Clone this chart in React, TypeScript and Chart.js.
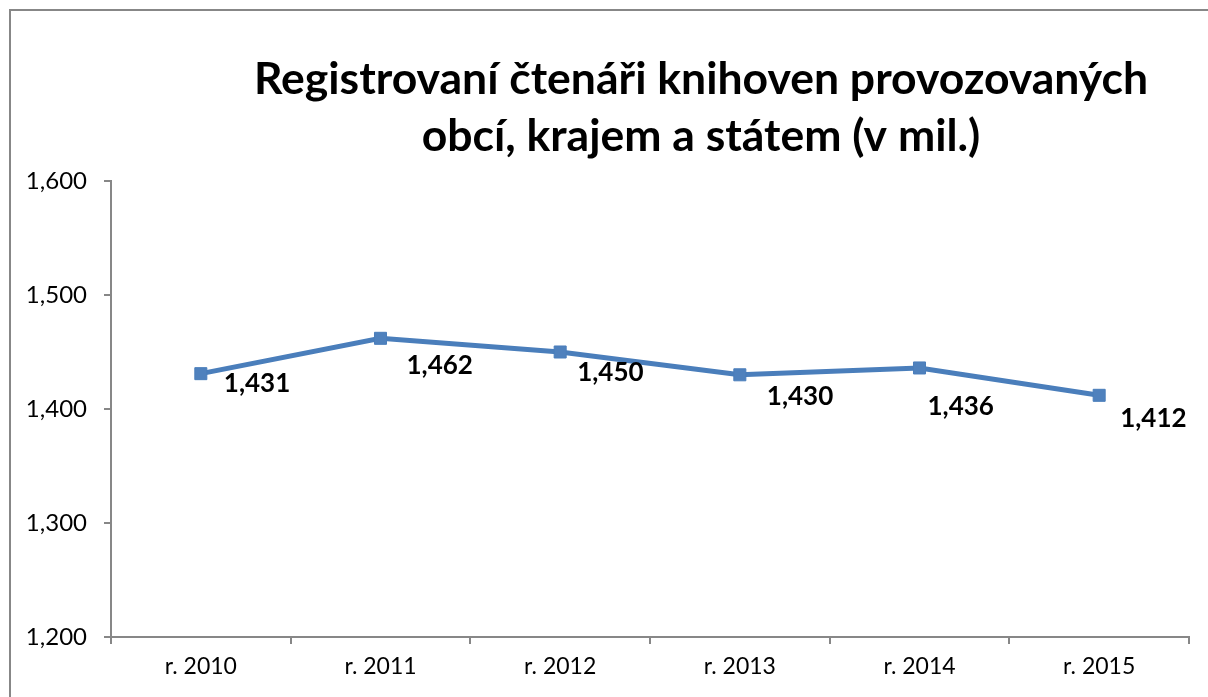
import React, { useEffect, useRef } from "react";
import { Chart, registerables } from "chart.js";

Chart.register(...registerables);

const categories = ["r. 2010", "r. 2011", "r. 2012", "r. 2013", "r. 2014", "r. 2015"];
const readers = [1431, 1462, 1450, 1430, 1436, 1412];
const titleLines = ["Registrovaní čtenáři knihoven provozovaných", "obcí, krajem a státem (v mil.)"];
const yMin = 1200;
const yMax = 1600;
const yStep = 100;

// label offsets (dx to left edge of text, dy to vertical centre) relative to each point
const labelOffsets: [number, number][] = [
  [23, 10],
  [26, 27],
  [17, 21],
  [27, 22],
  [8, 39],
  [21, 23],
];

const fmt = (v: number) => v.toLocaleString("en-US");

const FONT = "Lato, 'Open Sans', sans-serif";

const decorPlugin = {
  id: "decor",
  beforeDraw(chart: any) {
    const ctx = chart.ctx;
    ctx.save();
    ctx.fillStyle = "#ffffff";
    ctx.fillRect(0, 0, chart.width, chart.height);
    ctx.strokeStyle = "#878787";
    ctx.lineWidth = 2;
    ctx.strokeRect(10, 10, chart.width + 20, chart.height + 20);
    ctx.restore();
  },
  afterDraw(chart: any) {
    const ctx = chart.ctx;
    ctx.save();
    ctx.fillStyle = "#000000";
    ctx.textAlign = "center";
    ctx.textBaseline = "middle";
    ctx.font = `bold 44.5px ${FONT}`;
    ctx.fillText(titleLines[0], 701, 80);
    ctx.fillText(titleLines[1], 701, 137);

    const meta = chart.getDatasetMeta(0);
    ctx.font = `bold 26px ${FONT}`;
    ctx.textAlign = "left";
    meta.data.forEach((pt: any, i: number) => {
      const [dx, dy] = labelOffsets[i];
      ctx.fillText(fmt(readers[i]), pt.x + dx, pt.y + dy);
    });
    ctx.restore();
  },
};

export default function App() {
  const ref = useRef<HTMLCanvasElement | null>(null);
  useEffect(() => {
    if (!ref.current) return;
    const chart = new Chart(ref.current, {
      type: "line",
      data: {
        labels: categories,
        datasets: [
          {
            data: readers,
            borderColor: "#4A7EBB",
            backgroundColor: "#4F81BD",
            borderWidth: 5,
            pointStyle: "rect",
            pointRadius: 8.5,
            pointBorderWidth: 1,
            pointBorderColor: "#4A7EBB",
            pointBackgroundColor: "#4F81BD",
            tension: 0,
          },
        ],
      },
      options: {
        animation: false,
        responsive: false,
        maintainAspectRatio: false,
        layout: { padding: { top: 181, right: 19, bottom: 0, left: 0 } },
        plugins: {
          legend: { display: false },
          title: { display: false },
          tooltip: { enabled: false },
        },
        scales: {
          x: {
            type: "category",
            offset: true,
            grid: {
              display: true,
              offset: true,
              drawOnChartArea: false,
              drawTicks: true,
              tickLength: 7,
              color: "#878787",
              lineWidth: 2,
            },
            border: { display: true, color: "#878787", width: 2 },
            ticks: {
              color: "#000000",
              font: { family: FONT, size: 23 },
              padding: 9,
            },
            afterFit(scale: any) {
              scale.height = 60;
            },
          },
          y: {
            min: yMin,
            max: yMax,
            grid: {
              display: true,
              drawOnChartArea: false,
              drawTicks: true,
              tickLength: 7,
              color: "#878787",
              lineWidth: 2,
            },
            border: { display: true, color: "#878787", width: 2 },
            ticks: {
              stepSize: yStep,
              color: "#000000",
              font: { family: FONT, size: 24 },
              padding: 17,
              callback: (v: any) => fmt(Number(v)),
            },
            afterFit(scale: any) {
              scale.width = 111;
            },
          },
        },
      },
      plugins: [decorPlugin],
    });
    return () => chart.destroy();
  }, []);
  return (
    <div style={{ position: "fixed", left: 0, top: 0, width: 1208, height: 697 }}>
      <canvas ref={ref} width={1208} height={697} style={{ display: "block", width: 1208, height: 697 }} />
    </div>
  );
}
